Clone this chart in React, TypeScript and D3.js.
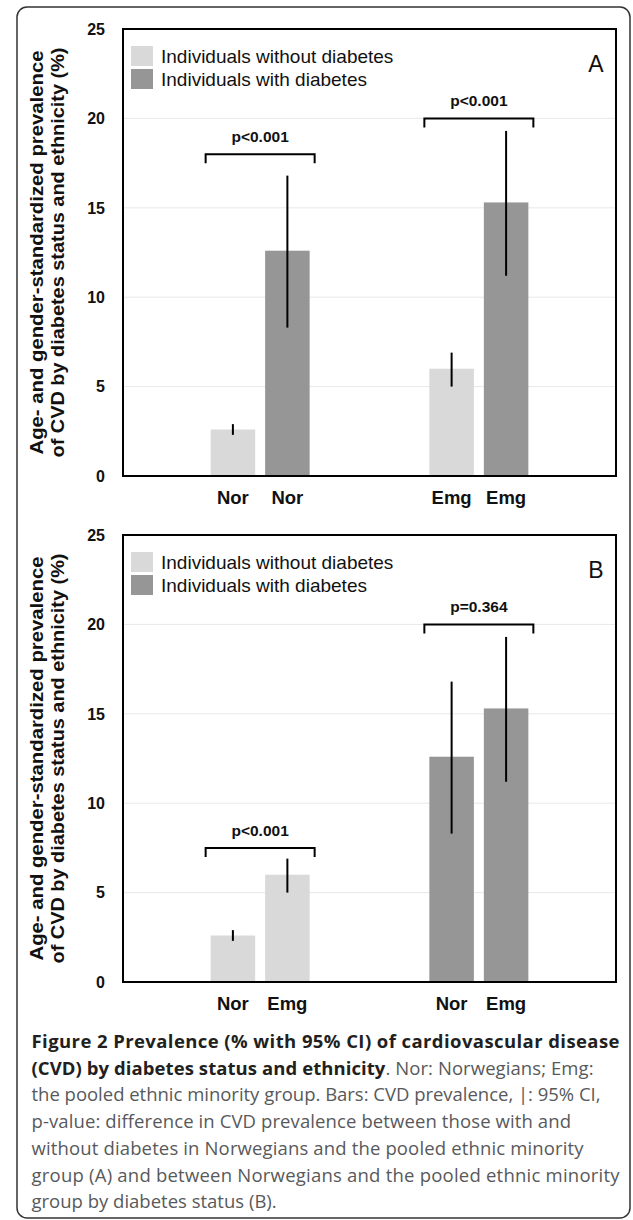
import React from 'react';
import * as d3 from 'd3';

// values (%)
const ethnicities = ['Nor', 'Emg'];
const statuses = ['Individuals without diabetes', 'Individuals with diabetes'];
const statusColors = ['#d9d9d9', '#969696'];

// prevalence by ethnicity: [without diabetes, with diabetes]
const norPrevalence = [2.6, 12.6];
const emgPrevalence = [6.0, 15.3];
// 95% CI [low, high] by ethnicity and status
const norCI = [[2.3, 2.9], [8.3, 16.8]];
const emgCI = [[5.0, 6.9], [11.2, 19.3]];

const yTicks = [0, 5, 10, 15, 20, 25];

// p-value brackets: label and level (% scale) per group
const pLabelsA = ['p<0.001', 'p<0.001'];
const pLevelsA = [18, 20];
const pLabelsB = ['p<0.001', 'p=0.364'];
const pLevelsB = [7.5, 20];

const captionLines = [
  'Figure 2 Prevalence (% with 95% CI) of cardiovascular disease',
  '(CVD) by diabetes status and ethnicity',
  'the pooled ethnic minority group. Bars: CVD prevalence, |: 95% CI,',
  'p-value: difference in CVD prevalence between those with and',
  'without diabetes in Norwegians and the pooled ethnic minority',
  'group (A) and between Norwegians and the pooled ethnic minority',
  'group by diabetes status (B).',
];
const captionLine2Rest = '. Nor: Norwegians; Emg:';
const captionWidths = [588, 562, 569, 539.5, 552, 588, null];

const W = 633;
const H = 1220;
const plotLeft = 123;
const plotRight = 616;
const font = "'Liberation Sans', Arial, Helvetica, sans-serif";

const prevOf = (eth: number) => (eth === 0 ? norPrevalence : emgPrevalence);
const ciOf = (eth: number) => (eth === 0 ? norCI : emgCI);

type Bar = { group: number; slot: number; value: number; lo: number; hi: number; color: string; label: string };

// panel A: grouped by ethnicity, bars by diabetes status
const barsA: Bar[] = [];
ethnicities.forEach((eth, e) => {
  statuses.forEach((_, s) => {
    barsA.push({ group: e, slot: s, value: prevOf(e)[s], lo: ciOf(e)[s][0], hi: ciOf(e)[s][1], color: statusColors[s], label: eth });
  });
});
// panel B: grouped by diabetes status, bars by ethnicity
const barsB: Bar[] = [];
statuses.forEach((_, s) => {
  ethnicities.forEach((eth, e) => {
    barsB.push({ group: s, slot: e, value: prevOf(e)[s], lo: ciOf(e)[s][0], hi: ciOf(e)[s][1], color: statusColors[s], label: eth });
  });
});

const xGroup = d3.scalePoint<number>().domain([0, 1]).range([plotLeft, plotRight]).padding(0.627);
const xSlot = d3.scaleBand<number>().domain([0, 1]).range([-49.5, 49.5]).paddingInner(0.183);

const Panel = ({ top, bottom, bars, pLabels, pLevels, letter }: {
  top: number; bottom: number; bars: Bar[]; pLabels: string[]; pLevels: number[]; letter: string;
}) => {
  const y = d3.scaleLinear().domain([0, 25]).range([bottom, top]);
  const bw = xSlot.bandwidth();
  const mid = (top + bottom) / 2;
  return (
    <g fontFamily={font}>
      {/* gridlines */}
      {yTicks.map((t) => (
        <line key={t} x1={plotLeft} x2={plotRight} y1={y(t)} y2={y(t)} stroke="#e8e8e8" strokeWidth={1} />
      ))}
      {/* tick labels */}
      {yTicks.map((t) => (
        <text key={'t' + t} x={105} y={y(t)} dy="0.36em" textAnchor="end" fontSize={16} fontWeight="bold" fill="#111">{t}</text>
      ))}
      {/* y title */}
      <text transform={`translate(43,${mid}) rotate(-90)`} textAnchor="middle" fontSize={18.5} fontWeight="bold" fill="#111"
        textLength={404} lengthAdjust="spacingAndGlyphs">Age- and gender-standardized prevalence</text>
      <text transform={`translate(64,${mid}) rotate(-90)`} textAnchor="middle" fontSize={18.5} fontWeight="bold" fill="#111"
        textLength={410} lengthAdjust="spacingAndGlyphs">of CVD by diabetes status and ethnicity (%)</text>
      {/* bars */}
      {bars.map((b, i) => {
        const x0 = xGroup(b.group)! + xSlot(b.slot)!;
        return (
          <g key={i}>
            <rect x={x0} y={y(b.value)} width={bw} height={y(0) - y(b.value)} fill={b.color} />
            <line x1={x0 + bw / 2} x2={x0 + bw / 2} y1={y(b.hi)} y2={y(b.lo)} stroke="#000" strokeWidth={2} />
            <text x={x0 + bw / 2} y={bottom + 28} textAnchor="middle" fontSize={18.5} fontWeight="bold" fill="#111">{b.label}</text>
          </g>
        );
      })}
      {/* p-value brackets */}
      {pLabels.map((p, g) => {
        const c = xGroup(g)!;
        const x1 = c + xSlot(0)! - 5;
        const x2 = c + xSlot(1)! + bw + 5;
        const by = y(pLevels[g]);
        return (
          <g key={'p' + g}>
            <path d={`M${x1},${by + 9}V${by}H${x2}V${by + 9}`} fill="none" stroke="#000" strokeWidth={2} />
            <text x={c} y={by - 12} textAnchor="middle" fontSize={15.5} fontWeight="bold" fill="#111">{p}</text>
          </g>
        );
      })}
      {/* frame */}
      <rect x={plotLeft} y={top} width={plotRight - plotLeft} height={bottom - top} fill="none" stroke="#000" strokeWidth={2} />
      {/* legend */}
      {statuses.map((s, i) => (
        <g key={s}>
          <rect x={131} y={top + 17 + i * 23} width={22} height={20} fill={statusColors[i]} />
          <text x={161} y={top + 34 + i * 23} fontSize={19} fill="#111">{s}</text>
        </g>
      ))}
      <text x={596} y={top + 43} textAnchor="middle" fontSize={23} fill="#111">{letter}</text>
    </g>
  );
};

export default function App() {
  return (
    <svg width={W} height={H} style={{ position: 'absolute', left: 0, top: 0, background: '#fff' }}>
      <rect x={17} y={7} width={613} height={1211} rx={10} fill="#fff" stroke="#333" strokeWidth={1.5} />
      <Panel top={29} bottom={476} bars={barsA} pLabels={pLabelsA} pLevels={pLevelsA} letter="A" />
      <Panel top={535} bottom={982} bars={barsB} pLabels={pLabelsB} pLevels={pLevelsB} letter="B" />
      <g fontFamily="'Open Sans', 'Noto Sans', sans-serif" fontSize={18.5}>
        {captionLines.map((line, i) => {
          const w = captionWidths[i];
          const lenProps = w ? { textLength: w, lengthAdjust: 'spacing' } : {};
          if (i === 0) {
            return <text key={i} x={31.5} y={1048 + i * 26.7} fontWeight="bold" fill="#231f20" {...lenProps}>{line}</text>;
          }
          if (i === 1) {
            return (
              <text key={i} x={31.5} y={1048 + i * 26.7} {...lenProps}>
                <tspan fontWeight="bold" fill="#231f20">{line}</tspan>
                <tspan fill="#58595b">{captionLine2Rest}</tspan>
              </text>
            );
          }
          return <text key={i} x={31.5} y={1048 + i * 26.7} fill="#58595b" {...lenProps}>{line}</text>;
        })}
      </g>
    </svg>
  );
}
